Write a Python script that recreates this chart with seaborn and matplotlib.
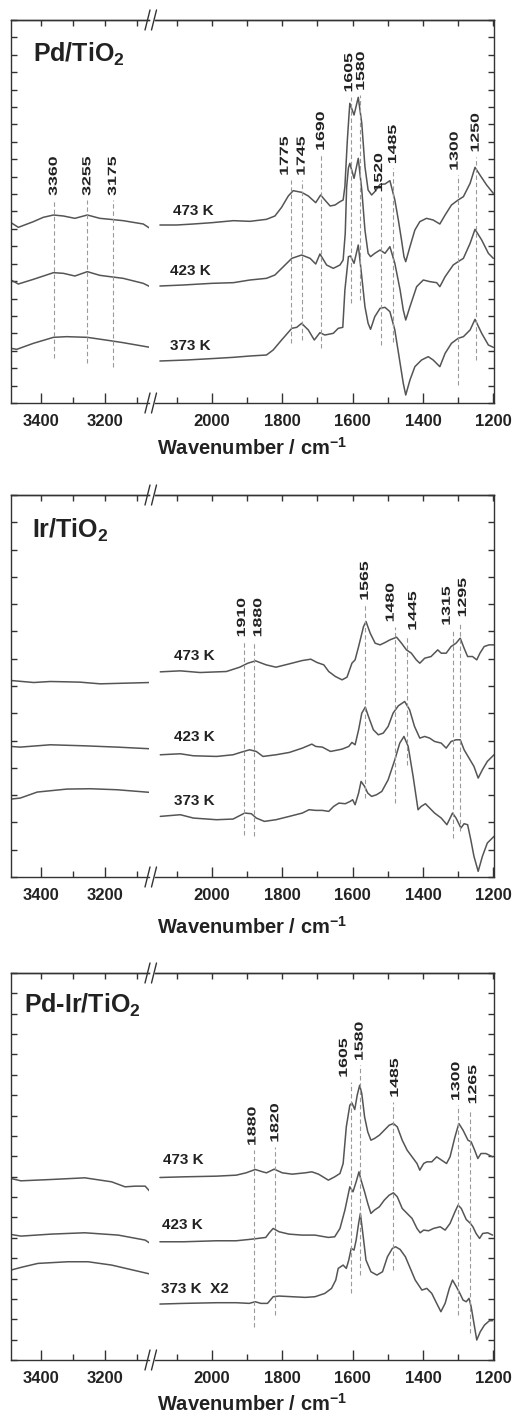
import numpy as np
import pandas as pd
import matplotlib.pyplot as plt
import seaborn as sns
from matplotlib.lines import Line2D
from matplotlib.patheffects import AbstractPathEffect
from matplotlib.transforms import Affine2D

# ─── DATA (wavenumber in cm-1, absorbance in arbitrary units, offsets included) ───
# Pd/TiO2
PD_473_WN = [3494, 3471, 3424, 3393, 3361, 3330, 3294, 3255, 3216, 3184, 3143, 3080, 3059,
             2148, 2100, 2053, 2000, 1939, 1892, 1845, 1821, 1802, 1783, 1769, 1745, 1726,
             1705, 1691, 1679, 1664, 1650, 1636, 1627, 1622, 1615, 1610, 1608, 1596, 1584,
             1574, 1565, 1556, 1546, 1537, 1522, 1508, 1494, 1480, 1470, 1461, 1454, 1449,
             1437, 1423, 1409, 1390, 1371, 1352, 1337, 1319, 1300, 1285, 1266, 1252, 1238,
             1219, 1200]
PD_473_A = [54.1, 52.7, 54.4, 55.7, 56.4, 56.1, 55.4, 56.4, 55.4, 55.1, 54.7, 53.7, 52.4,
            53.4, 53.4, 53.7, 54.1, 54.7, 54.5, 55.1, 56.1, 58.7, 62.1, 63.7, 63.2, 62.1,
            60.1, 62.4, 60.9, 59.1, 59.4, 60.4, 60.9, 64.9, 78.9, 86.9, 89.9, 86.4, 91.7,
            83.9, 70.9, 63.9, 62.4, 63.4, 65.6, 65.7, 66.7, 60.9, 54.9, 48.9, 43.9, 42.4,
            46.9, 51.9, 54.4, 55.4, 54.9, 53.7, 56.4, 59.4, 60.9, 61.9, 65.9, 70.7, 68.4,
            65.4, 62.9]

PD_423_WN = [3494, 3471, 3424, 3361, 3330, 3294, 3255, 3216, 3184, 3143, 3080, 3059,
             2148, 2082, 2000, 1939, 1892, 1845, 1821, 1797, 1773, 1745, 1721, 1705, 1693,
             1674, 1655, 1636, 1627, 1621, 1617, 1612, 1608, 1596, 1584, 1574, 1565, 1556,
             1549, 1537, 1522, 1508, 1494, 1480, 1465, 1456, 1449, 1437, 1418, 1399, 1380,
             1361, 1352, 1337, 1314, 1300, 1285, 1266, 1252, 1233, 1214, 1200]
PD_423_A = [36.9, 35.7, 37.1, 39.1, 38.9, 38.1, 39.4, 38.3, 37.9, 37.4, 35.9, 34.9,
            35.1, 35.4, 35.9, 36.1, 36.9, 37.4, 38.4, 40.9, 43.4, 44.4, 43.4, 41.7, 44.7,
            41.4, 40.4, 41.4, 42.9, 50.9, 64.9, 70.5, 71.9, 67.4, 73.4, 63.9, 51.9, 44.9,
            43.9, 44.9, 45.9, 44.9, 46.9, 41.9, 33.9, 27.9, 24.9, 28.9, 34.9, 36.9, 36.4,
            36.1, 34.9, 37.9, 41.4, 42.4, 43.4, 47.9, 52.1, 48.9, 44.9, 43.4]

PD_373_WN = [3494, 3476, 3424, 3361, 3320, 3255, 3184, 3143, 3059,
             2148, 2072, 1987, 1939, 1892, 1845, 1826, 1802, 1773, 1759, 1745, 1726, 1709,
             1693, 1679, 1655, 1641, 1628, 1622, 1612, 1606, 1596, 1584, 1574, 1565, 1556,
             1549, 1537, 1522, 1508, 1494, 1480, 1465, 1456, 1449, 1437, 1423, 1404, 1385,
             1371, 1352, 1337, 1319, 1300, 1285, 1266, 1252, 1233, 1214, 1200]
PD_373_A = [16.4, 16.1, 17.9, 19.7, 19.9, 19.7, 18.7, 18.1, 16.7,
            12.6, 12.9, 13.4, 13.7, 14.1, 14.4, 15.9, 18.9, 22.4, 22.7, 23.9, 21.9, 18.9,
            21.1, 20.4, 20.9, 22.4, 22.7, 33.9, 43.9, 44.1, 41.9, 47.4, 37.9, 28.9, 23.9,
            22.1, 25.9, 28.4, 28.7, 27.4, 21.9, 11.9, 5.9, 2.4, 6.9, 10.9, 12.9, 13.9,
            12.9, 10.9, 14.9, 17.9, 19.4, 19.9, 21.9, 25.1, 20.9, 17.4, 16.7]

PD_PEAKS = [3360, 3255, 3175, 1775, 1745, 1690, 1605, 1580, 1520, 1485, 1300, 1250]
PD_PEAK_TOP = [60.9, 60.9, 60.9, 66.9, 66.9, 74.4, 91.9, 92.4, 61.9, 70.4, 68.4, 73.9]
PD_PEAK_BOT = [13.4, 11.9, 10.9, 17.9, 18.9, 16.4, 29.9, 30.9, 17.4, 18.4, 5.4, 12.9]

# Ir/TiO2
IR_473_WN = [3494, 3423, 3371, 3319, 3277, 3215, 3058,
             2147, 2090, 2034, 1959, 1921, 1898, 1876, 1846, 1818, 1780, 1743, 1719, 1701,
             1682, 1668, 1649, 1630, 1616, 1602, 1593, 1583, 1569, 1562, 1550, 1536, 1522,
             1508, 1494, 1475, 1461, 1447, 1433, 1419, 1409, 1395, 1377, 1358, 1348, 1334,
             1320, 1306, 1294, 1283, 1273, 1259, 1247, 1238, 1226, 1212, 1198]
IR_473_A = [59.0, 58.4, 58.7, 58.6, 58.5, 58.0, 58.4,
            61.6, 61.9, 61.4, 61.7, 63.0, 64.2, 64.9, 63.7, 63.0, 64.0, 65.0, 65.4, 64.4,
            63.7, 61.7, 60.2, 59.2, 60.0, 64.2, 65.2, 69.2, 75.2, 76.7, 73.2, 70.2, 69.7,
            70.4, 71.2, 72.0, 70.2, 68.2, 67.2, 65.2, 64.2, 65.7, 66.2, 68.2, 67.2, 67.2,
            69.2, 70.2, 71.7, 68.7, 66.2, 66.2, 65.2, 67.2, 69.2, 69.7, 69.7]

IR_423_WN = [3494, 3465, 3371, 3267, 3162, 3058,
             2147, 2090, 2053, 1987, 1940, 1916, 1893, 1874, 1855, 1818, 1780, 1743, 1716,
             1705, 1686, 1663, 1639, 1630, 1611, 1602, 1593, 1583, 1574, 1564, 1555, 1541,
             1527, 1513, 1499, 1485, 1470, 1452, 1438, 1424, 1409, 1395, 1381, 1367, 1348,
             1334, 1320, 1306, 1294, 1283, 1269, 1255, 1243, 1231, 1217, 1198]
IR_423_A = [39.2, 39.0, 39.7, 39.4, 39.0, 38.5,
            36.7, 37.0, 36.4, 36.2, 36.7, 37.5, 38.2, 37.7, 36.2, 36.7, 37.4, 38.7, 39.9,
            39.2, 39.0, 37.7, 38.2, 38.4, 39.2, 40.4, 39.7, 44.2, 49.2, 51.0, 48.2, 44.2,
            42.7, 43.2, 45.2, 49.2, 51.4, 52.7, 50.2, 45.2, 41.7, 42.2, 41.7, 40.7, 40.2,
            38.7, 40.7, 41.2, 41.2, 38.2, 35.7, 33.2, 29.7, 32.2, 34.7, 36.7]

IR_373_WN = [3494, 3465, 3412, 3319, 3246, 3162, 3058,
             2147, 2090, 2053, 1987, 1940, 1907, 1888, 1874, 1851, 1818, 1780, 1743, 1724,
             1705, 1686, 1668, 1654, 1639, 1621, 1607, 1600, 1593, 1583, 1576, 1566, 1557,
             1546, 1532, 1517, 1499, 1480, 1466, 1454, 1442, 1428, 1414, 1405, 1393, 1381,
             1367, 1348, 1332, 1325, 1316, 1306, 1292, 1283, 1273, 1264, 1255, 1243, 1231,
             1217, 1198]
IR_373_A = [23.4, 23.7, 25.5, 26.4, 26.5, 26.2, 25.4,
            18.2, 18.7, 17.7, 17.2, 17.4, 19.2, 19.0, 17.7, 16.7, 17.2, 18.2, 19.2, 20.2,
            20.0, 20.0, 19.7, 21.2, 22.2, 22.0, 22.7, 23.2, 21.7, 25.2, 28.7, 27.2, 25.2,
            24.2, 24.7, 25.7, 29.2, 35.2, 40.2, 42.2, 39.2, 30.2, 20.2, 21.2, 22.0, 20.7,
            19.2, 17.7, 15.7, 17.2, 19.2, 17.7, 14.7, 16.0, 15.7, 11.2, 6.2, 1.7, 6.2,
            10.2, 12.2]

IR_PEAKS = [1910, 1880, 1565, 1480, 1445, 1315, 1295]
IR_PEAK_TOP = [70.7, 70.7, 81.7, 75.2, 72.7, 74.2, 76.7]
IR_PEAK_BOT = [12.7, 12.2, 23.7, 22.2, 33.7, 11.7, 13.7]

# Pd-Ir/TiO2
PI_473_WN = [3494, 3463, 3368, 3263, 3179, 3137, 3105, 3074, 3058,
             2148, 2080, 1987, 1931, 1903, 1877, 1856, 1845, 1823, 1800, 1772, 1735, 1716,
             1697, 1669, 1651, 1636, 1627, 1618, 1608, 1602, 1594, 1587, 1580, 1574, 1566,
             1557, 1548, 1538, 1524, 1510, 1496, 1484, 1473, 1459, 1445, 1431, 1417, 1409,
             1398, 1389, 1375, 1361, 1347, 1333, 1323, 1309, 1298, 1286, 1272, 1263, 1253,
             1244, 1235, 1221, 1202]
PI_473_A = [54.5, 53.8, 54.2, 54.7, 53.5, 52.0, 52.2, 52.2, 50.5,
            54.8, 55.0, 55.2, 55.5, 56.2, 57.2, 56.5, 56.2, 57.3, 56.2, 55.8, 56.2, 56.5,
            55.8, 54.0, 55.0, 56.0, 59.0, 70.0, 76.5, 77.2, 75.2, 79.5, 82.5, 80.0, 73.0,
            68.5, 66.0, 66.5, 67.5, 69.0, 70.5, 71.0, 70.0, 66.0, 63.0, 61.0, 59.0, 57.0,
            59.0, 59.5, 59.5, 61.0, 60.0, 59.0, 61.0, 67.0, 71.0, 69.0, 66.0, 65.5, 63.0,
            60.5, 62.0, 62.0, 61.0]

PI_423_WN = [3494, 3463, 3368, 3263, 3158, 3074, 3058,
             2148, 2080, 1987, 1931, 1894, 1877, 1847, 1837, 1826, 1809, 1781, 1744, 1707,
             1669, 1651, 1636, 1622, 1608, 1599, 1590, 1582, 1576, 1566, 1557, 1548, 1538,
             1524, 1510, 1496, 1484, 1473, 1459, 1445, 1431, 1417, 1408, 1398, 1384, 1370,
             1351, 1337, 1323, 1309, 1300, 1291, 1277, 1265, 1258, 1249, 1239, 1230, 1216,
             1202]
PI_423_A = [37.7, 37.2, 37.8, 38.2, 37.5, 36.0, 35.0,
            35.5, 35.5, 35.8, 35.8, 36.2, 36.4, 36.8, 38.2, 39.5, 38.5, 37.8, 37.5, 37.5,
            36.8, 37.0, 39.5, 45.0, 52.0, 50.5, 53.5, 56.5, 54.0, 50.5, 47.0, 44.0, 45.0,
            46.0, 48.0, 49.5, 50.2, 49.0, 45.5, 44.0, 42.5, 39.5, 38.2, 39.0, 38.8, 39.5,
            40.0, 39.0, 41.0, 44.5, 46.5, 45.5, 42.2, 41.0, 40.0, 38.0, 36.5, 38.0, 38.2,
            37.5]

PI_373_WN = [3494, 3463, 3410, 3316, 3253, 3179, 3058,
             2148, 2080, 1987, 1931, 1894, 1877, 1861, 1842, 1826, 1809, 1772, 1735, 1707,
             1679, 1660, 1648, 1641, 1627, 1618, 1611, 1604, 1596, 1590, 1583, 1578, 1571,
             1562, 1548, 1531, 1515, 1501, 1487, 1478, 1465, 1450, 1436, 1422, 1403, 1389,
             1375, 1361, 1349, 1337, 1325, 1316, 1305, 1295, 1286, 1277, 1269, 1263, 1255,
             1247, 1237, 1225, 1211, 1202]
PI_373_A = [27.0, 27.8, 29.0, 29.5, 29.5, 28.5, 25.8,
            16.8, 17.0, 17.2, 17.2, 17.0, 17.5, 17.0, 17.0, 19.0, 19.2, 19.0, 18.8, 19.0,
            20.0, 21.5, 24.0, 27.5, 28.5, 27.5, 30.0, 33.5, 33.0, 36.0, 41.0, 44.0, 38.0,
            30.0, 26.5, 25.5, 26.5, 31.0, 33.5, 34.0, 33.2, 31.0, 27.5, 24.0, 21.0, 21.5,
            20.0, 17.0, 14.5, 17.0, 21.5, 24.0, 22.0, 20.0, 18.0, 17.5, 18.5, 16.0, 11.0,
            6.0, 8.5, 10.5, 11.8, 11.8]

PI_PEAKS = [1880, 1820, 1605, 1580, 1485, 1300, 1265]
PI_PEAK_TOP = [63.0, 64.0, 83.5, 88.5, 77.5, 76.5, 75.5]
PI_PEAK_BOT = [10.0, 13.5, 20.0, 25.5, 27.0, 13.5, 8.0]

TEMPS = ['473 K', '423 K', '373 K']
TEMP_WN = [[2110, 2119, 2119], [2109, 2109, 2109], [2138, 2141, 2144]]
TEMP_A = [[57.7, 39.7, 17.1], [66.5, 41.9, 22.7], [60.0, 40.5, 21.3]]

# ─── LAYOUT / STYLE ───────────────────────────────────────────────────────────
W, H = 517, 1416
LINE = '#555555'
DASH = '#9a9a9a'
FRAME = '#333333'
TXT = '#222222'
X_L, X_BRK_L, X_BRK_R, X_R = 11, 149, 155, 494   # pixel columns of the broken axis

# sideways nudge (points) of crowded peak labels, panel by panel
NUDGE = [
    {1775: -4.5, 1255: -1, 1300: -2.5, 1520: -1.2, 1605: -1.2, 1580: 1.0},
    {1910: -1.2, 1880: 3.0, 1480: -3.0, 1445: 4.3, 1315: -4.3, 1295: 2.2},
    {1880: -1.2, 1605: -5.0, 1485: 1.4, 1300: -1.4, 1265: 2.0},
]

sns.set_theme(style='ticks')
plt.rcParams['font.family'] = ['Liberation Sans', 'DejaVu Sans']
plt.rcParams['mathtext.fontset'] = 'custom'
plt.rcParams['mathtext.bf'] = 'Liberation Sans:bold'
plt.rcParams['mathtext.rm'] = 'Liberation Sans'


class Stretch(AbstractPathEffect):
    """Draw glyphs stretched along the text direction (tall, narrow peak labels)."""
    def __init__(self, sx=1.0, sy=1.0):
        super().__init__()
        self._sx, self._sy = sx, sy

    def draw_path(self, renderer, gc, tpath, affine, rgbFace=None):
        renderer.draw_path(gc, tpath, Affine2D().scale(self._sx, self._sy) + affine,
                           rgbFace)


def style_axis(ax, xlim, major, minor, top_ticks, ymax, n_ytick, side):
    ax.set_xlim(*xlim)
    ax.set_ylim(0, ymax)
    ax.set_xticks(major)
    ax.set_xticks(minor, minor=True)
    ax.set_xticklabels([str(v) for v in major], fontweight='bold', fontsize=12)
    ax.tick_params(axis='x', which='major', direction='in', length=7, width=1,
                   color=FRAME, top=False, pad=8, labelcolor=TXT)
    ax.tick_params(axis='x', which='minor', direction='in', length=4, width=1,
                   color=FRAME, top=False)
    ax.set_yticks(np.linspace(0, ymax, n_ytick + 1))
    ax.tick_params(axis='y', direction='in', length=4, width=1, color=FRAME,
                   left=(side == 'left'), right=(side == 'right'),
                   labelleft=False, labelright=False)
    for s in ax.spines.values():
        s.set_color(FRAME)
        s.set_linewidth(1.0)
    ax.spines['right' if side == 'left' else 'left'].set_visible(False)
    sec = ax.secondary_xaxis('top')
    sec.set_xticks(top_ticks)
    sec.set_xticklabels([])
    sec.tick_params(direction='in', length=4, width=1, color=FRAME)
    sec.spines['top'].set_color(FRAME)
    sec.spines['top'].set_linewidth(1.0)
    ax.set_xlabel('')
    ax.set_ylabel('')


def draw_break(fig, x_px, y_px):
    xs = [(x_px - 2.5) / W, (x_px + 2.5) / W]
    ys = [1 - (y_px + 10) / H, 1 - (y_px - 10) / H]
    fig.add_artist(Line2D(xs, ys, color=FRAME, lw=1.0))


def draw_panel(fig, top_px, bot_px, ymax, n_ytick, curves, peaks, tops, bots, nudge,
               temp_wn, temp_a, temp_txt, title, title_x, title_y, xlabel_y):
    bottom = 1 - bot_px / H
    height = (bot_px - top_px) / H
    ax_l = fig.add_axes([X_L / W, bottom, (X_BRK_L - X_L) / W, height])
    ax_r = fig.add_axes([X_BRK_R / W, bottom, (X_R - X_BRK_R) / W, height])

    for wn, a in curves:
        df = pd.DataFrame({'wn': wn, 'a': a})
        for ax, part in ((ax_l, df[df.wn > 2500]), (ax_r, df[df.wn < 2500])):
            sns.lineplot(data=part, x='wn', y='a', ax=ax, color=LINE, lw=1.1,
                         estimator=None, sort=False)

    for w, t, b in zip(peaks, tops, bots):
        ax = ax_l if w > 2500 else ax_r
        ax.plot([w, w], [b, t], color=DASH, lw=0.8, dashes=(4, 2.5))
        ax.annotate(str(w), (w, t), xytext=(nudge.get(w, 0), 3),
                    textcoords='offset points', rotation=90, ha='center',
                    va='bottom', fontsize=8.5, fontweight='bold', color=TXT,
                    path_effects=[Stretch(1.5, 1.0)])

    for w, a, txt in zip(temp_wn, temp_a, temp_txt):
        ax_r.text(w, a, txt, ha='left', va='center', fontsize=11,
                  fontweight='bold', color=TXT)

    ax_l.text(title_x, title_y, title, transform=ax_l.transAxes, ha='left',
              va='baseline', fontsize=18, fontweight='bold', color=TXT)

    style_axis(ax_l, (3494, 3062), [3400, 3200], [3300, 3100],
               [3400, 3300, 3200, 3100], ymax, n_ytick, 'left')
    style_axis(ax_r, (2162, 1198), [2000, 1800, 1600, 1400, 1200],
               [2100, 1900, 1700, 1500, 1300], list(range(2100, 1199, -100)),
               ymax, n_ytick, 'right')

    for y in (top_px, bot_px):
        draw_break(fig, X_BRK_L - 1.5, y)
        draw_break(fig, X_BRK_R - 1.0, y)

    fig.text((X_L + X_R) / 2 / W, xlabel_y, r'Wavenumber / cm$^{\mathbf{-1}}$',
             ha='center', va='center', fontsize=14.5, fontweight='bold', color=TXT)


fig = plt.figure(figsize=(W / 100, H / 100), dpi=100)

draw_panel(fig, 20, 403, 114.9, 22,
           [(PD_473_WN, PD_473_A), (PD_423_WN, PD_423_A), (PD_373_WN, PD_373_A)],
           PD_PEAKS, PD_PEAK_TOP, PD_PEAK_BOT, NUDGE[0],
           TEMP_WN[0], TEMP_A[0], TEMPS,
           r'Pd/TiO$_{\mathbf{2}}$', 0.159, 0.891, 0.6836)

draw_panel(fig, 495, 877, 114.7, 14,
           [(IR_473_WN, IR_473_A), (IR_423_WN, IR_423_A), (IR_373_WN, IR_373_A)],
           IR_PEAKS, IR_PEAK_TOP, IR_PEAK_BOT, NUDGE[1],
           TEMP_WN[1], TEMP_A[1], TEMPS,
           r'Ir/TiO$_{\mathbf{2}}$', 0.150, 0.887, 0.3453)

draw_panel(fig, 973, 1360, 116.2, 19,
           [(PI_473_WN, PI_473_A), (PI_423_WN, PI_423_A), (PI_373_WN, PI_373_A)],
           PI_PEAKS, PI_PEAK_TOP, PI_PEAK_BOT, NUDGE[2],
           TEMP_WN[2], TEMP_A[2], TEMPS[:2] + ['373 K  X2'],
           r'Pd-Ir/TiO$_{\mathbf{2}}$', 0.094, 0.896, 0.0085)

fig.savefig('out.png', dpi=100)
